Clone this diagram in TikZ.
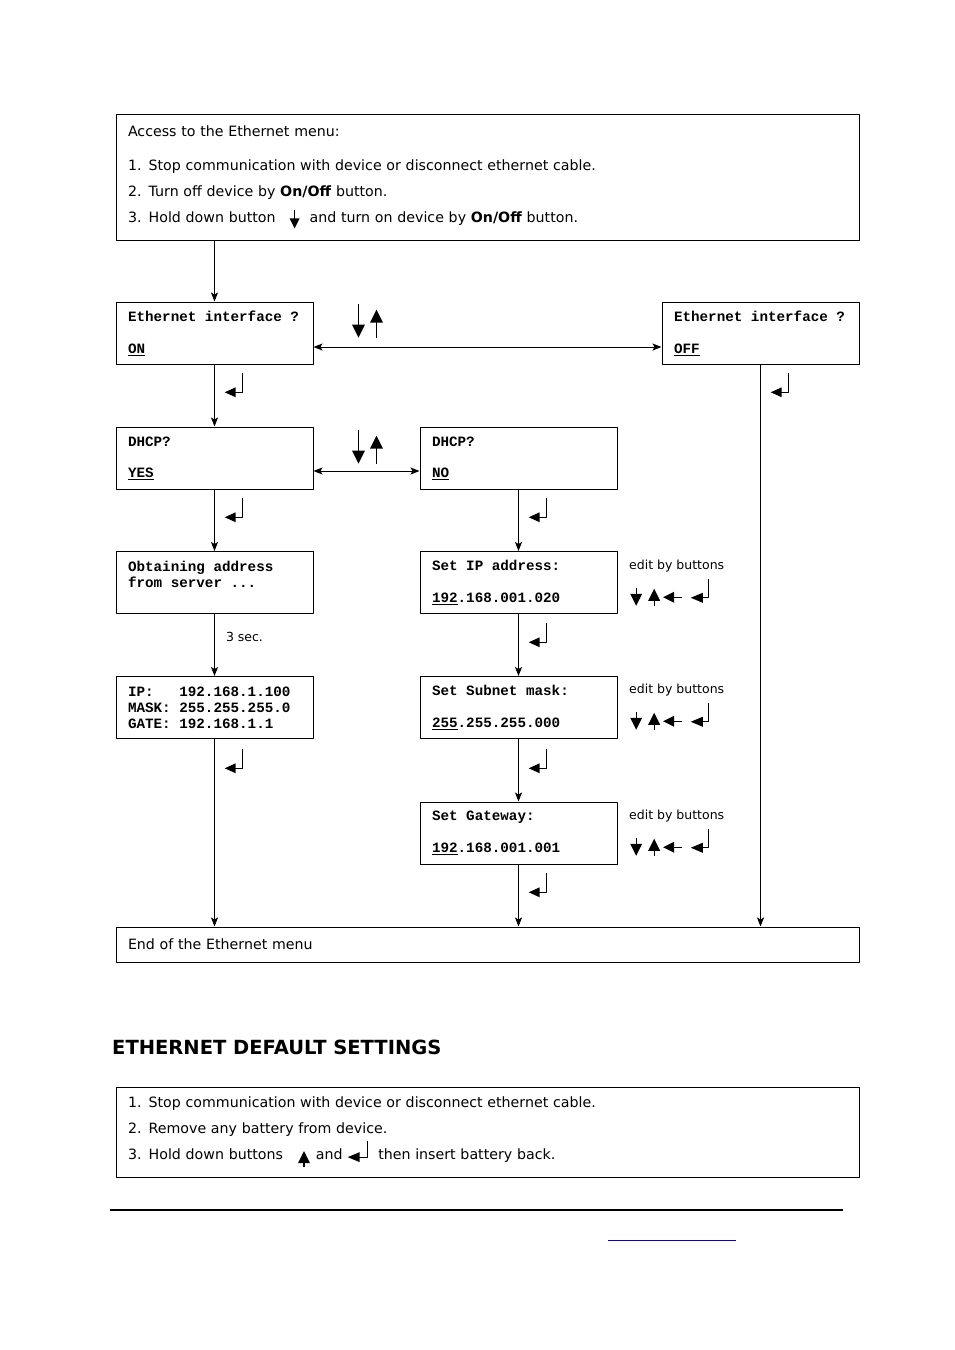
\documentclass[tikz,border=0pt]{standalone}
\usepackage{fontspec}
\setmainfont{DejaVu Sans}
\newfontfamily\lcdfont{Liberation Mono}
\usetikzlibrary{arrows.meta}
\newcommand\kdn[2][12]{\tikz[x=1pt,y=1pt,baseline=0pt]{\draw[line width=1.1pt] (0,#2)--(0,#1-1); \fill (-#1/2,#1)--(#1/2,#1)--(0,0)--cycle;}}
\newcommand\kup[2][12]{\tikz[x=1pt,y=1pt,baseline=0pt]{\draw[line width=1.1pt] (0,0)--(0,#2-#1+1); \fill (-#1/2,#2-#1)--(#1/2,#2-#1)--(0,#2)--cycle;}}
\newcommand\kleft[2][11]{\tikz[x=1pt,y=1pt,baseline=0pt]{\fill (0,#1/2)--(#1,0)--(#1,#1)--cycle; \draw[line width=1.1pt] (#1-1,#1/2)--(#2,#1/2);}}
\newcommand\kenter[3][11]{\tikz[x=1pt,y=1pt,baseline=0pt]{\fill (0,5)--(#1,0)--(#1,10)--cycle; \draw[line width=1.1pt] (#1-1,5)--(#2,5)--(#2,#3);}}
\begin{document}
\begin{tikzpicture}[x=1pt, y=-1pt, line join=round, >={Stealth[length=9pt,width=7pt,inset=2pt]},
	box/.style={draw, line width=1pt, minimum width=197pt, minimum height=62pt, inner xsep=12pt, inner ysep=0pt, text width=173pt, align=left, font=\lcdfont\bfseries\fontsize{14.25}{16}\selectfont\frenchspacing, execute at begin node={\spaceskip=0.6em\xspaceskip=0.6em}},
	wide/.style={draw, line width=1pt, minimum width=743pt, inner xsep=12pt, inner ysep=0pt, text width=719pt, align=left, font=\fontsize{14.2}{26}\selectfont},
	flow/.style={->, line width=1pt},
	txt/.style={font=\fontsize{12.5}{15}\selectfont, inner sep=0pt},
	icon/.style={inner sep=0pt}]
	\useasboundingbox (0,0) rectangle (954,1350);
	\node[wide, minimum height=126pt] (access) at (487.5,177) {Access to the Ethernet menu:\\[8pt]
		1. Stop communication with device or disconnect ethernet cable.\\
		2. Turn off device by \textbf{On/Off} button.\\
		3. Hold down button\hspace{14pt}\raisebox{-6pt}{\kdn[10]{18}}\hspace{10pt}and turn on device by \textbf{On/Off} button.};
	\node[box] (ethon) at (214.5,333) {Ethernet interface ?\\[16pt]\underline{ON}};
	\node[box] (ethoff) at (760.5,333) {Ethernet interface ?\\[16pt]\underline{OFF}};
	\node[box] (dhcpyes) at (214.5,458) {DHCP?\\[15pt]\underline{YES}};
	\node[box] (dhcpno) at (518.5,458) {DHCP?\\[15pt]\underline{NO}};
	\node[box] (obtain) at (214.5,582.5) {Obtaining address\\from server ...\\\mbox{}};
	\node[box] (setip) at (518.5,582.5) {Set IP address:\\[16pt]\underline{192}.168.001.020};
	\node[box] (ipinfo) at (214.5,707.5) {IP:\ \ \ 192.168.1.100\\MASK: 255.255.255.0\\GATE: 192.168.1.1};
	\node[box] (subnet) at (518.5,707.5) {Set Subnet mask:\\[16pt]\underline{255}.255.255.000};
	\node[box] (gateway) at (518.5,833) {Set Gateway:\\[16pt]\underline{192}.168.001.001};
	\node[wide, minimum height=35pt] (endmenu) at (487.5,944.5) {End of the Ethernet menu};
	\draw[flow] (access.south -| ethon.north) -- (ethon.north);
	\draw[flow, <->] ([yshift=-14pt]ethon.east) -- ([yshift=-14pt]ethoff.west);
	\draw[flow] (ethon) -- (dhcpyes);
	\draw[flow, <->] ([yshift=-13pt]dhcpyes.east) -- ([yshift=-13pt]dhcpno.west);
	\draw[flow] (dhcpyes) -- (obtain);
	\draw[flow] (dhcpno) -- (setip);
	\draw[flow] (obtain) -- node[txt, pos=0.37, anchor=west, xshift=11pt] (delay) {3 sec.} (ipinfo);
	\draw[flow] (setip) -- (subnet);
	\draw[flow] (subnet) -- (gateway);
	\draw[flow] (ipinfo) -- (ipinfo |- endmenu.north);
	\draw[flow] (gateway) -- (gateway |- endmenu.north);
	\draw[flow] (ethoff) -- (ethoff |- endmenu.north);
	\node[icon] (updown1) at (367.5,320.5) {\kdn[13]{34}\hspace{5pt}\kup[13]{28}};
	\node[icon] (updown2) at (367.5,446.5) {\kdn[13]{34}\hspace{5pt}\kup[13]{28}};
	\foreach \x/\y [count=\i] in {234/385, 780/385, 234/510, 538/510, 538/635, 234/761, 538/761, 538/885}
		\node[icon] (enter\i) at (\x,\y) {\kenter{18}{24}};
	\foreach \y [count=\i] in {566,690,816} {
		\node[txt, anchor=west] (edit\i) at (629,\y) {edit by buttons};
		\node[icon, anchor=north west] (keys\i) at (630,\y+12) {\raisebox{-3pt}{\kdn{18}}\hspace{6pt}\raisebox{-3pt}{\kup{17}}\hspace{3pt}\kleft{19}\hspace{8pt}\kenter[12]{18}{24}};
	}
	\node[anchor=west, inner sep=0pt, font=\bfseries\fontsize{19.5}{22}\selectfont] (heading) at (112,1047) {ETHERNET DEFAULT SETTINGS};
	\node[wide, minimum height=90pt] (defaults) at (487.5,1132) {1. Stop communication with device or disconnect ethernet cable.\\
		2. Remove any battery from device.\\
		3. Hold down buttons\hspace{15pt}\raisebox{-8pt}{\kup{16}}\hspace{6pt}and\hspace{5pt}\raisebox{-3pt}{\kenter[12]{20}{21}}\hspace{10pt}then insert battery back.};
	\draw[line width=1.3pt] (110,1210) -- (843,1210);
	\draw[blue!80!black, line width=1pt] (608,1240) -- (736,1240);
\end{tikzpicture}
\end{document}
